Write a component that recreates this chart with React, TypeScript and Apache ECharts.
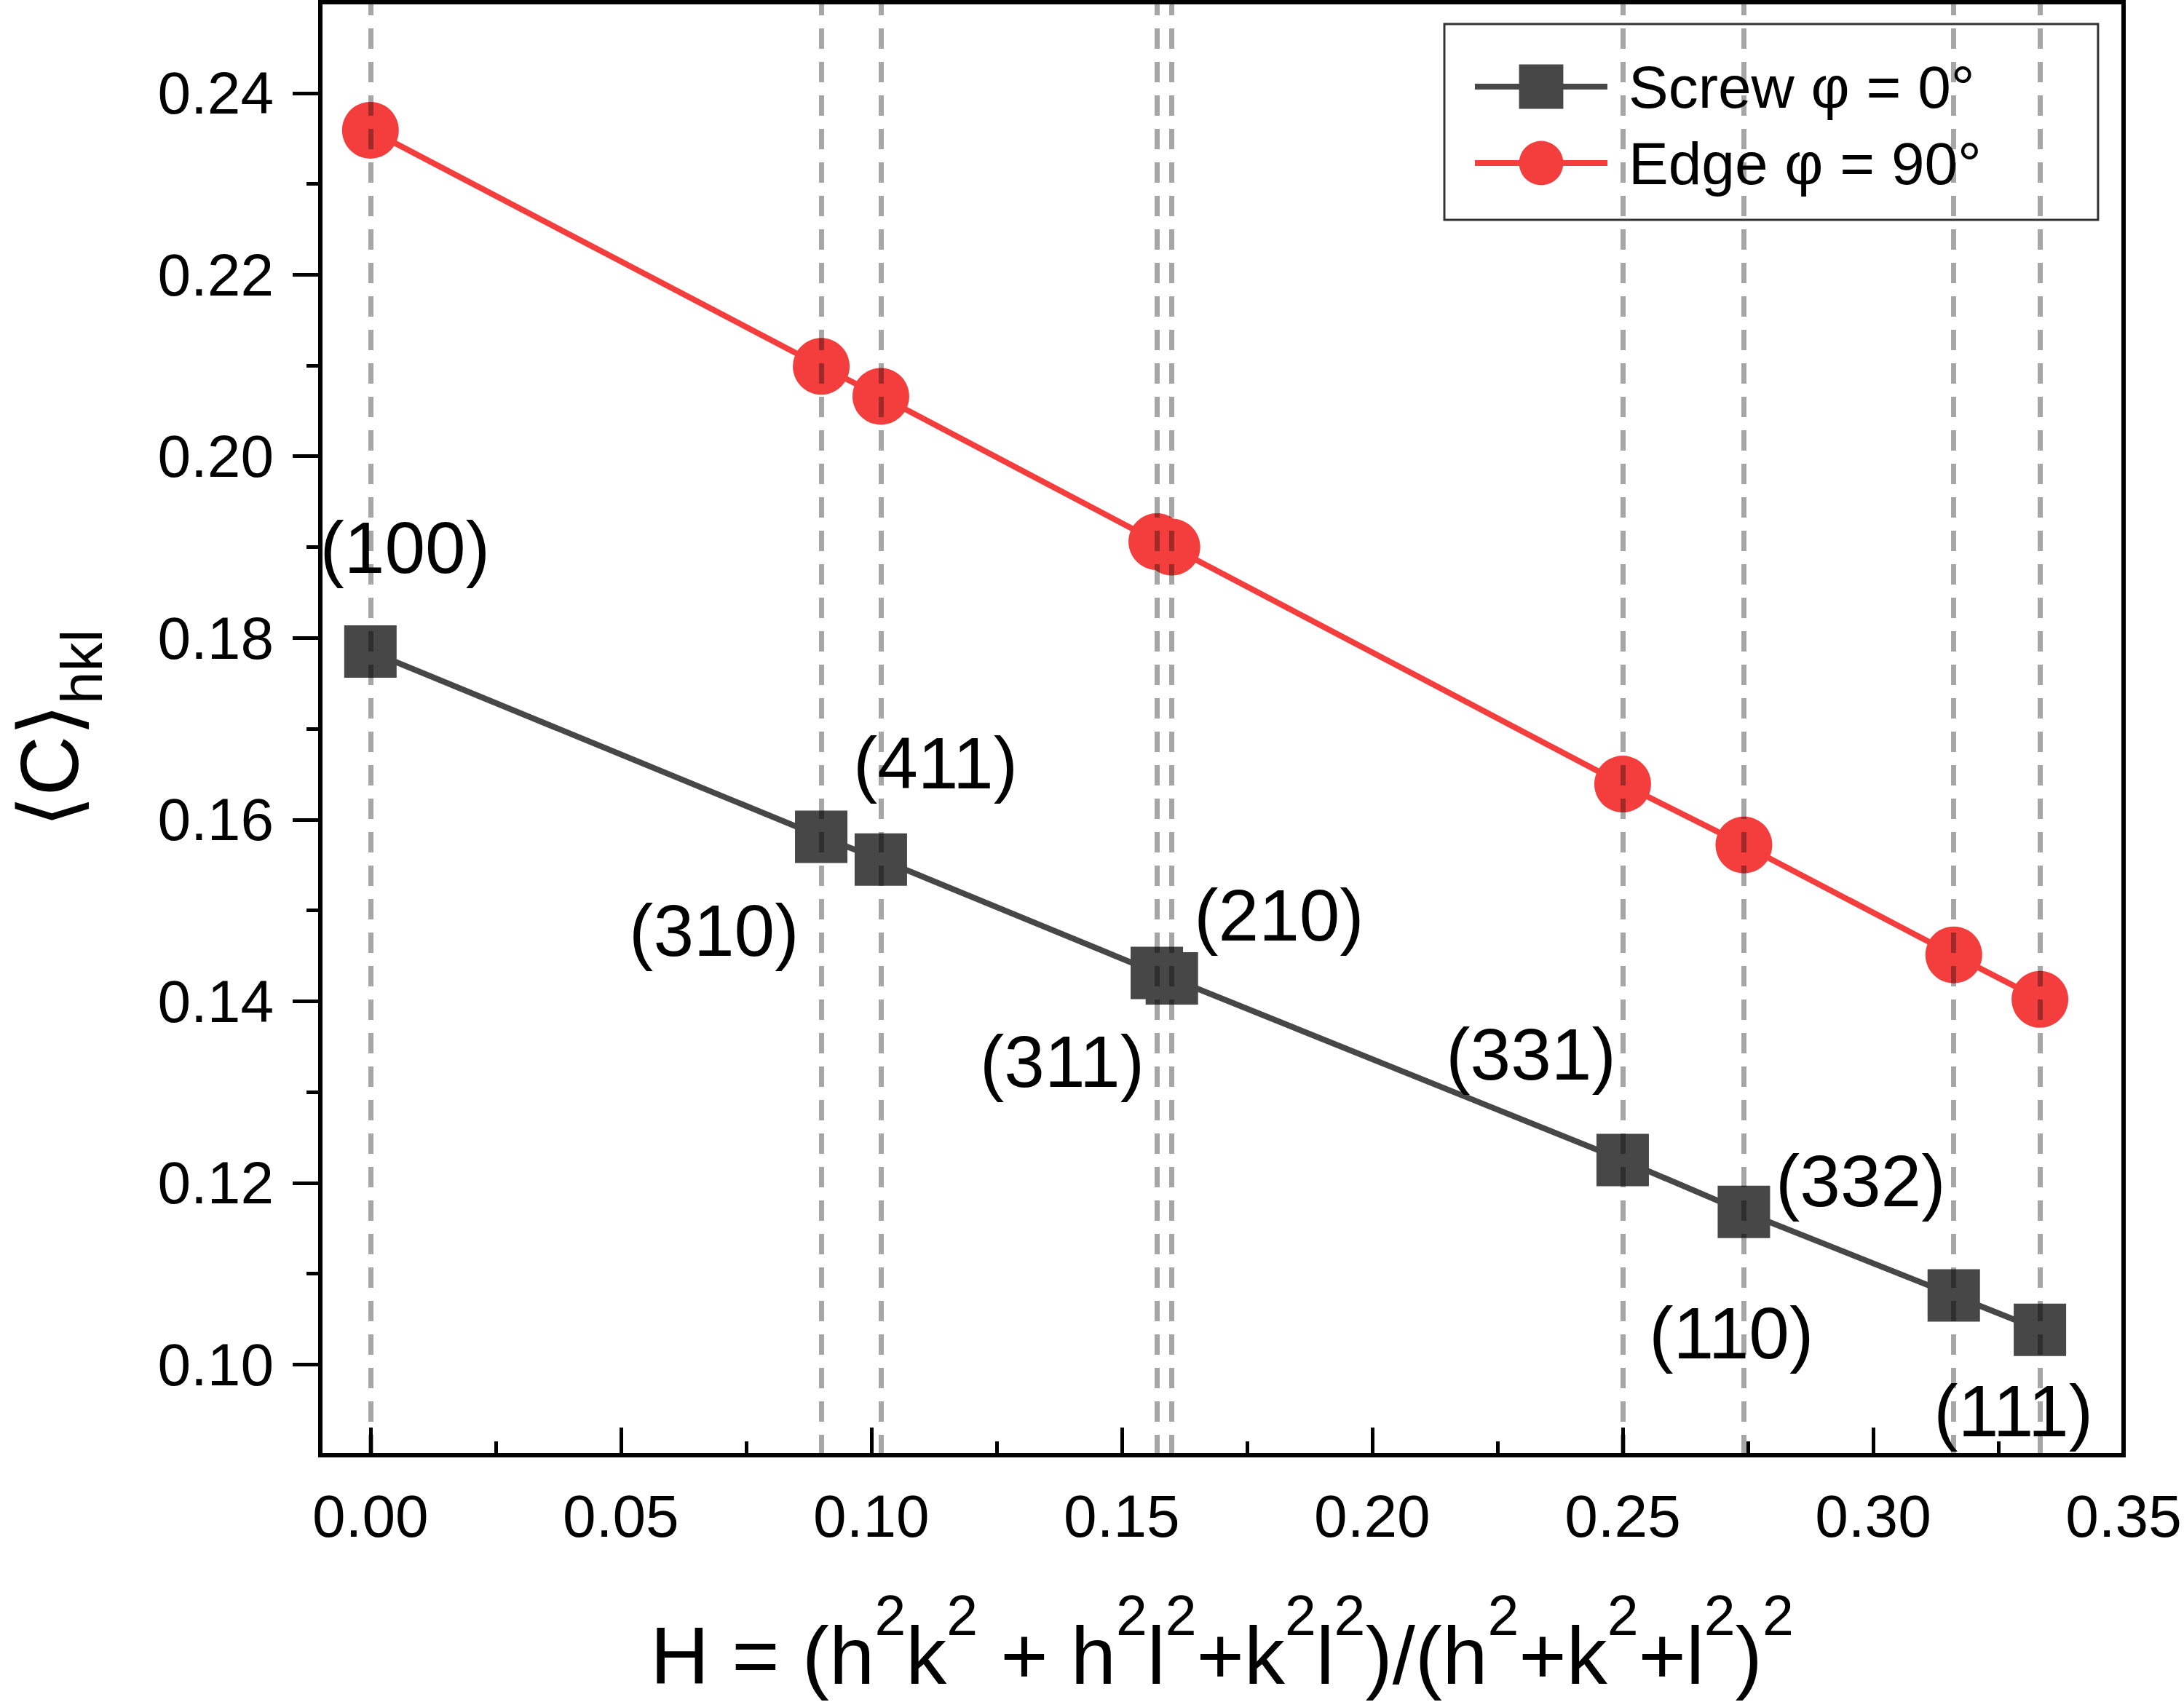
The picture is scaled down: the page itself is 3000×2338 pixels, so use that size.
import { useEffect, useRef } from "react";
import * as echarts from "echarts";

// H values of the reflections and the averaged contrast factor
const hValues = [0, 0.09, 0.1019, 0.157, 0.16, 0.25, 0.2742, 0.3161, 0.3333];
const screw = [0.1785, 0.1581, 0.1556, 0.1431, 0.1425, 0.1225, 0.1168, 0.1076, 0.1038];
const edge = [0.2359, 0.2099, 0.2066, 0.1906, 0.19, 0.1639, 0.1572, 0.1451, 0.1402];

// plane annotations, placed in data coordinates
const planeNames = ["(100)", "(310)", "(411)", "(210)", "(311)", "(331)", "(332)", "(110)", "(111)"];
const planeX = [0.0069, 0.0686, 0.1128, 0.1814, 0.1381, 0.2317, 0.2975, 0.2717, 0.328];
const planeY = [0.19, 0.1478, 0.1662, 0.1495, 0.1334, 0.1342, 0.1202, 0.1035, 0.0949];

const xTicks = [0, 0.05, 0.1, 0.15, 0.2, 0.25, 0.3, 0.35];
const xMinorTicks = [0.025, 0.075, 0.125, 0.175, 0.225, 0.275, 0.325];
const yTicks = [0.1, 0.12, 0.14, 0.16, 0.18, 0.2, 0.22, 0.24];
const yMinorTicks = [0.11, 0.13, 0.15, 0.17, 0.19, 0.21, 0.23];

const seriesNames = ["Screw φ = 0°", "Edge φ = 90°"];

const font = "'Liberation Sans', Arial, sans-serif";
const tickStyle = { color: "#000", width: 5 };
const gray = "#474747";
const red = "#f43e3e";

export default function App() {
  const chartRef = useRef<HTMLDivElement>(null);

  useEffect(() => {
    document.body.style.margin = "0";
    if (!chartRef.current) return;
    const chart = echarts.init(chartRef.current, undefined, { renderer: "svg" });

    chart.setOption({
      animation: false,
      backgroundColor: "#fff",
      grid: {
        left: 440,
        right: 83,
        top: 3,
        bottom: 339,
        show: true,
        borderColor: "#000",
        borderWidth: 6,
        containLabel: false,
        outerBoundsMode: "none",
      },
      legend: {
        orient: "vertical",
        left: 1984,
        top: 33,
        data: seriesNames,
        itemWidth: 182,
        itemHeight: 76,
        itemGap: 23,
        padding: [45, 160, 37, 38],
        borderColor: "#333",
        borderWidth: 3,
        backgroundColor: "#fff",
        lineStyle: { width: 8 },
        textStyle: { fontSize: 82, color: "#000", fontFamily: font, padding: [0, 0, 0, 24] },
      },
      xAxis: [
        {
          type: "value",
          position: "bottom",
          min: -0.01,
          max: 0.35,
          axisLine: { onZero: false, lineStyle: { color: "#000", width: 6 } },
          axisTick: { inside: true, length: 38, lineStyle: tickStyle, customValues: xTicks },
          axisLabel: {
            customValues: xTicks,
            formatter: (v: number) => v.toFixed(2),
            fontSize: 82,
            color: "#000",
            margin: 42,
            fontFamily: font,
          },
          splitLine: { show: false },
          name: "{n|H = (h}{s|2}{n|k}{s|2}{n| + h}{s|2}{n|l}{s|2}{n|+k}{s|2}{n|l}{s|2}{n|)/(h}{s|2}{n|+k}{s|2}{n|+l}{s|2}{n|)}{s|2}",
          nameLocation: "middle",
          nameGap: 181,
          nameTextStyle: {
            color: "#000",
            fontFamily: font,
            rich: {
              n: { fontSize: 112, fontFamily: font, color: "#000", verticalAlign: "top", padding: [38, 0, 0, 0] },
              s: { fontSize: 77, fontFamily: font, color: "#000", verticalAlign: "top" },
            },
          },
        },
        {
          type: "value",
          position: "bottom",
          min: -0.01,
          max: 0.35,
          axisLine: { show: false, onZero: false },
          axisTick: { inside: true, length: 19, lineStyle: tickStyle, customValues: xMinorTicks },
          axisLabel: { show: false },
          splitLine: { show: false },
        },
      ],
      yAxis: [
        {
          type: "value",
          position: "left",
          min: 0.09,
          max: 0.25,
          axisLine: { onZero: false, lineStyle: { color: "#000", width: 6 } },
          axisTick: { inside: false, length: 38, lineStyle: tickStyle, customValues: yTicks },
          axisLabel: {
            customValues: yTicks,
            formatter: (v: number) => v.toFixed(2),
            fontSize: 82,
            color: "#000",
            margin: 64,
            fontFamily: font,
          },
          splitLine: { show: false },
          name: "{m|\u27E8C\u27E9}{b|hkl}",
          nameLocation: "middle",
          nameRotate: 90,
          nameGap: 288,
          nameTextStyle: {
            color: "#000",
            fontFamily: font,
            rich: {
              m: { fontSize: 114, fontFamily: font, color: "#000", verticalAlign: "top" },
              b: { fontSize: 80, fontFamily: font, color: "#000", verticalAlign: "top", padding: [62, 0, 0, 0] },
            },
          },
        },
        {
          type: "value",
          position: "left",
          min: 0.09,
          max: 0.25,
          axisLine: { show: false, onZero: false },
          axisTick: { inside: false, length: 19, lineStyle: tickStyle, customValues: yMinorTicks },
          axisLabel: { show: false },
          splitLine: { show: false },
        },
      ],
      series: [
        {
          name: seriesNames[0],
          type: "line",
          data: hValues.map((h, i) => [h, screw[i]]),
          symbol: "rect",
          symbolSize: 72,
          itemStyle: { color: gray },
          lineStyle: { color: gray, width: 8 },
          z: 2,
          markLine: {
            silent: true,
            precision: 6,
            symbol: ["none", "none"],
            label: { show: false },
            emphasis: { disabled: true },
            lineStyle: { type: [28, 18], color: "rgba(0,0,0,0.35)", width: 7 },
            data: hValues.map((h) => ({ xAxis: h })),
          },
        },
        {
          name: seriesNames[1],
          type: "line",
          data: hValues.map((h, i) => [h, edge[i]]),
          symbol: "circle",
          symbolSize: 78,
          itemStyle: { color: red },
          lineStyle: { color: red, width: 8 },
          z: 2,
        },
        {
          type: "scatter",
          data: planeNames.map((n, i) => [planeX[i], planeY[i], n]),
          symbolSize: 1,
          itemStyle: { color: "transparent", opacity: 1 },
          silent: true,
          z: 6,
          label: {
            show: true,
            position: "inside",
            formatter: (p: any) => p.data[2],
            fontSize: 100,
            color: "#000",
            opacity: 1,
            fontFamily: font,
          },
        },
      ],
    });

    return () => {
      chart.dispose();
    };
  }, []);

  return <div ref={chartRef} style={{ width: 3000, height: 2338 }} />;
}
